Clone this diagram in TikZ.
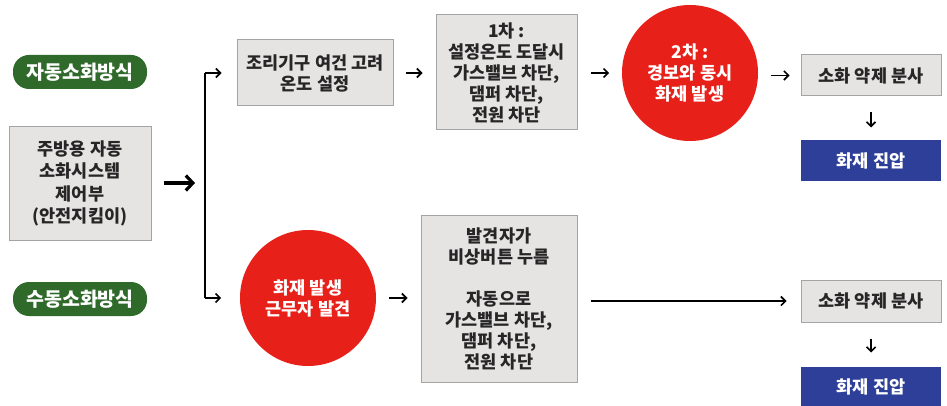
\documentclass[tikz,border=0pt]{standalone}
\usepackage{fontspec}
\setmainfont{Noto Sans CJK KR}
\usepackage{tikz}
\usetikzlibrary{arrows.meta, positioning}

\definecolor{pillgreen}{HTML}{2F6A2A}
\definecolor{boxgray}{HTML}{E6E3E3}
\definecolor{linegray}{HTML}{A4A4A4}
\definecolor{firered}{HTML}{E8201A}
\definecolor{navy}{HTML}{2E3F9A}

\begin{document}
\begin{tikzpicture}[x=1pt,y=-1pt,font=\bfseries\fontsize{17.5}{21}\selectfont,->,>={Straight Barb[length=4.5pt,width=9pt]},line width=1.6pt]

	\tikzset{pill st/.style={draw=none, fill=pillgreen, text=white,
			rounded corners=16pt, minimum width=134pt, minimum height=34pt,
			inner sep=0pt, font=\bfseries\fontsize{19.5}{22}\selectfont},
		box st/.style={draw=linegray, line width=1pt, fill=boxgray,
			text=black!85, align=center, inner sep=0pt},
		fire st/.style={circle, draw=none, fill=firered, text=white,
			align=center, minimum size=136pt, inner sep=0pt},
		end st/.style={draw=none, fill=navy, text=white,
			minimum width=140pt, minimum height=41pt, inner sep=0pt}}

	\useasboundingbox (0,0) rectangle (947,406);

	\node[pill st] (auto) at (80,72) {자동소화방식};
	\node[pill st] (manual) at (80,299) {수동소화방식};
	\node[box st, minimum width=142pt, minimum height=113pt, font=\bfseries\fontsize{17.5}{22.5}\selectfont] (ctrl) at (80,183.5)
		{주방용 자동\\소화시스템\\제어부\\(안전지킴이)};
	\coordinate (split) at (205,183);

	% automatic branch
	\node[box st, minimum width=156pt, minimum height=66pt] (cook) at (315,73)
		{조리기구 여건 고려\\온도 설정};
	\node[box st, minimum width=141pt, minimum height=115pt] (first) at (506.5,72.5)
		{1차 :\\설정온도 도달시\\가스밸브 차단,\\댐퍼 차단,\\전원 차단};
	\node[fire st] (alarm) at (690,73) {2차 :\\경보와 동시\\화재 발생};
	\node[box st, minimum width=140pt, minimum height=41pt] (spray1) at (871,75.5)
		{소화 약제 분사};
	\node[end st, below=43pt of spray1] (ext1) {화재 진압};

	% manual branch
	\node[fire st] (fire) at (308,298) {화재 발생\\근무자 발견};
	\node[box st, minimum width=156pt, minimum height=167pt] (button) at (499,298.5)
		{발견자가\\비상버튼 누름\\[21pt]자동으로\\가스밸브 차단,\\댐퍼 차단,\\전원 차단};
	\node[box st, minimum width=140pt, minimum height=42pt] (spray2) at (871,301)
		{소화 약제 분사};
	\node[end st, below=44pt of spray2, minimum height=40pt] (ext2) {화재 진압};

	\draw[line width=3.2pt, >={Straight Barb[length=7pt,width=15pt]},
		shorten <=12pt, shorten >=10pt] (ctrl.east |- split) -- (split);
	\draw[-, line width=1.6pt] (split |- cook.west) -- (split |- fire.west);
	\draw[shorten >=15pt] (split |- cook.west) -- (cook.west);
	\draw[shorten >=18pt] (split |- fire.west) -- (fire.west);

	\draw[shorten <=12pt, shorten >=13pt]
		(cook.east) -- (cook.east -| first.west);
	\draw[shorten <=13pt, shorten >=12pt]
		(first.east |- alarm.east) -- (alarm.east -| alarm.west) ;
	\draw[shorten <=12pt, shorten >=11pt]
		(alarm.east |- spray1.west) -- (spray1.west);
	\draw[shorten <=16pt, shorten >=12pt] (spray1.south) -- (ext1.north);

	\draw[shorten <=12pt, shorten >=13pt]
		(fire.east) -- (fire.east -| button.west);
	\draw[shorten <=13pt, shorten >=14pt]
		(button.east |- spray2.west) -- (spray2.west);
	\draw[shorten <=16pt, shorten >=14pt] (spray2.south) -- (ext2.north);

\end{tikzpicture}
\end{document}
